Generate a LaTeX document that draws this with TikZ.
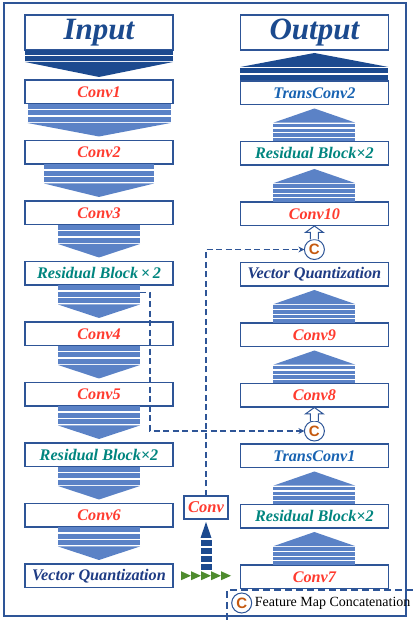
\documentclass[tikz,border=0pt]{standalone}
\usepackage{fontspec}
\setmainfont{Liberation Serif}
\newfontfamily\capfont{Liberation Sans}
\usetikzlibrary{positioning,arrows.meta,calc}

\definecolor{boxblue}{HTML}{2E5597}
\definecolor{iotext}{HTML}{1B4A8E}
\definecolor{darkflow}{HTML}{1C4A8F}
\definecolor{flowblue}{HTML}{5B82C6}
\definecolor{convred}{HTML}{FF3B2F}
\definecolor{resteal}{HTML}{00857F}
\definecolor{transblue}{HTML}{1863B2}
\definecolor{vqnavy}{HTML}{1F3C84}
\definecolor{catorange}{HTML}{C5590F}
\definecolor{arrowgreen}{HTML}{4E8B2E}

% stripes and a triangle pointing down from #1 to #2, half width #3
\newcommand\downflow[3]{%
  \foreach \s in {0.5,7,13.5}
    \fill[flowblue] ($(#1.south)+(-#3,-\s)$) rectangle ($(#1.south)+(#3,-\s-5)$);
  \fill[flowblue] ($(#1.south)+(-#3,-19.5)$) -- ($(#1.south)+(#3,-19.5)$)
    -- ($(#2.north)+(0,4)$) -- cycle;}
% the same pointing up from #2 to #1
\newcommand\upflow[3]{%
  \foreach \s in {0,4.7,9.4,14.1}
    \fill[flowblue] ($(#2.north)+(-#3,\s)$) rectangle ($(#2.north)+(#3,\s+3.5)$);
  \fill[flowblue] ($(#2.north)+(-#3,18.8)$) -- ($(#2.north)+(#3,18.8)$)
    -- ($(#1.south)+(0,-4)$) -- cycle;}

\begin{document}
\begin{tikzpicture}[x=1pt,y=1pt,
   box/.style={draw=boxblue,line width=1.3pt,fill=white,minimum width=148pt,
     minimum height=23.5pt,inner sep=0pt,outer sep=0pt,
     font=\bfseries\itshape\fontsize{16.2}{17}\selectfont},
   iobox/.style={box,minimum height=35pt,text=iotext,font=\bfseries\itshape\fontsize{31}{31}\selectfont},
   conv/.style={box,text=convred},
   res/.style={box,text=resteal},
   trans/.style={box,text=transblue},
   vq/.style={box,text=vqnavy},
   cat/.style={circle,draw=boxblue,line width=1pt,fill=white,minimum size=20pt,inner sep=0pt,
     outer sep=0pt,text=catorange,font=\capfont\bfseries\fontsize{15}{15}\selectfont},
   hollow/.style={draw=boxblue,line width=1pt,fill=white,line join=miter},
   skip/.style={draw=boxblue,line width=1.6pt,dash pattern=on 6pt off 3.5pt,
     -{Stealth[length=6pt,width=6pt]}}]
  \useasboundingbox (0,0) rectangle (413,620);
  \draw[boxblue,line width=1.6pt] (4,4) rectangle (406,617);

  % encoder
  \node[iobox] (in) at (99,587.5) {Input};
  \node[conv,below=30pt of in] (c1) {Conv1};
  \node[conv,below=37pt of c1] (c2) {Conv2};
  \node[conv,below=37pt of c2] (c3) {Conv3};
  \node[res,below=37pt of c3] (r1) {Residual Block\,×\,2};
  \node[conv,below=37pt of r1] (c4) {Conv4};
  \node[conv,below=37pt of c4] (c5) {Conv5};
  \node[res,below=37pt of c5] (r2) {Residual Block×2};
  \node[conv,below=37pt of r2] (c6) {Conv6};
  \node[vq,below=37pt of c6] (vq1) {Vector Quantization};

  % decoder
  \node[iobox] (out) at (314.4,587.5) {Output};
  \node[trans,below=31pt of out] (t2) {TransConv2};
  \node[res,below=37pt of t2] (rb1) {Residual Block×2};
  \node[conv,below=37pt of rb1] (c10) {Conv10};
  \node[vq,below=37pt of c10] (vq2) {Vector Quantization};
  \node[conv,below=37pt of vq2] (c9) {Conv9};
  \node[conv,below=37pt of c9] (c8) {Conv8};
  \node[trans,below=37pt of c8] (t1) {TransConv1};
  \node[res,below=37pt of t1] (rb2) {Residual Block×2};
  \node[conv,below=37pt of rb2] (c7) {Conv7};

  \node[cat,above=3pt of vq2] (cat1) {C};
  \node[cat,above=3pt of t1] (cat2) {C};
  \node[box,text=convred,minimum width=44pt,minimum height=23pt,
    font=\bfseries\itshape\fontsize{16.5}{17}\selectfont] (cv) at (206,112.5) {Conv};

  % flows
  \fill[darkflow] ($(in.south)+(-74,0)$) rectangle ($(in.south)+(74,-5)$);
  \fill[darkflow] ($(in.south)+(-74,-6)$) rectangle ($(in.south)+(74,-11)$);
  \fill[darkflow] ($(in.south)+(-74,-12)$) -- ($(in.south)+(74,-12)$) -- ($(c1.north)+(0,3)$) -- cycle;
  \foreach \a/\b/\w in {c1/c2/71.5,c2/c3/55,c3/r1/41,r1/c4/41,c4/c5/41,c5/r2/41,r2/c6/41,c6/vq1/41}
    \downflow{\a}{\b}{\w};
  \fill[darkflow] ($(t2.north)+(-74,1)$) rectangle ($(t2.north)+(74,6)$);
  \fill[darkflow] ($(t2.north)+(-74,8)$) rectangle ($(t2.north)+(74,13)$);
  \fill[darkflow] ($(t2.north)+(-74,14)$) -- ($(t2.north)+(74,14)$) -- ($(out.south)+(0,-3)$) -- cycle;
  \foreach \a/\b in {t2/rb1,rb1/c10,vq2/c9,c9/c8,t1/rb2,rb2/c7}
    \upflow{\a}{\b}{41};

  % hollow arrows into the decoder
  \foreach \c/\t in {cat1/c10,cat2/c8}
    \draw[hollow] let \p1=(\c.north), \p2=(\t.south) in
      (\x1-4pt,\y1) -- (\x1-4pt,\y2-7pt) -- (\x1-9pt,\y2-7pt) -- (\x1,\y2-0.5pt)
      -- (\x1+9pt,\y2-7pt) -- (\x1+4pt,\y2-7pt) -- (\x1+4pt,\y1);

  % skip connections
  \coordinate (skip1) at ($(r1.south)+(41,-7.5)$);
  \draw[skip] (skip1) -- ++(10,0) |- (cat2.west);
  \draw[skip] (cv.north) |- (cat1.west);

  % quantized code to the decoder
  \fill[darkflow] ($(cv.south)+(0,-3)$) -- ($(cv.south)+(5.5,-19)$) -- ($(cv.south)+(-5.5,-19)$) -- cycle;
  \foreach \s in {21,29,37,45}
    \fill[darkflow] ($(cv.south)+(-5.5,-\s)$) rectangle ($(cv.south)+(5.5,-\s-6)$);
  \foreach \i in {0,...,4}
    \fill[arrowgreen] ($(vq1.east)+(8+10*\i,4.5)$) -- ++(10,-4.5) -- ++(-10,-4.5) -- cycle;

  % legend
  \draw[boxblue,line width=1.2pt,dash pattern=on 7pt off 4pt] (227,0) |- (413,30);
  \node[cat] (lg) at (241.7,17) {C};
  \node[right=2pt of lg,inner sep=1pt,font=\fontsize{14}{14}\selectfont] {Feature Map Concatenation};
\end{tikzpicture}
\end{document}
